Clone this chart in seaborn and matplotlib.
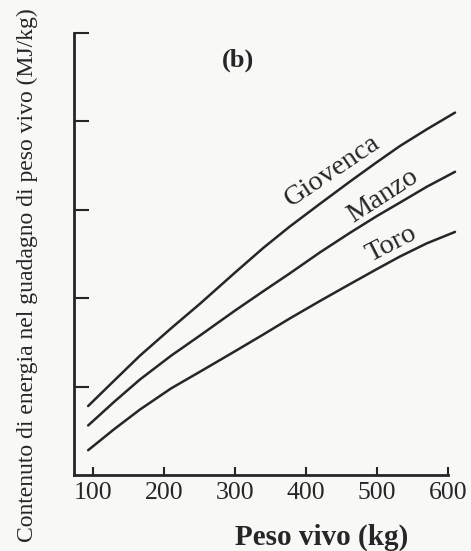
import matplotlib
matplotlib.use("Agg")
import matplotlib.pyplot as plt
import seaborn as sns
import pandas as pd

# peso vivo (kg) and energy content of gain (tick units, unlabeled axis)
peso = [93, 130, 166, 210, 251, 300, 340, 377, 420, 462, 500, 532, 570, 610]
giovenca = [0.78, 1.07, 1.35, 1.66, 1.94, 2.29, 2.57, 2.81, 3.07, 3.32, 3.54, 3.72, 3.91, 4.10]
manzo = [0.56, 0.83, 1.08, 1.35, 1.58, 1.86, 2.08, 2.28, 2.52, 2.74, 2.93, 3.08, 3.26, 3.43]
toro = [0.28, 0.52, 0.74, 0.98, 1.17, 1.40, 1.59, 1.77, 1.97, 2.16, 2.33, 2.47, 2.62, 2.75]

x_ticks = [100, 200, 300, 400, 500, 600]
y_ticks = [1, 2, 3, 4, 5]

df = pd.DataFrame({
    "peso": peso * 3,
    "energia": giovenca + manzo + toro,
    "tipo": ["Giovenca"] * len(peso) + ["Manzo"] * len(peso) + ["Toro"] * len(peso),
})

sns.set_style("ticks")
plt.rcParams["font.family"] = ["Liberation Serif", "DejaVu Serif"]

ink = "#262626"
fig = plt.figure(figsize=(4.71, 5.51), dpi=100, facecolor="#f8f8f6")
ax = fig.add_axes([0.157, 0.138, 0.794, 0.802])
ax.set_facecolor("#f8f8f6")

sns.lineplot(data=df, x="peso", y="energia", hue="tipo",
             palette=[ink, ink, ink], linewidth=1.8, legend=False, ax=ax)
for ln in ax.lines:
    ln.set_clip_on(False)
    ln.set_solid_capstyle("round")

ax.set_xlim(73, 600)
ax.set_ylim(0, 5)
ax.set_xticks(x_ticks)
ax.set_yticks(y_ticks)
ax.set_yticklabels([])
ax.tick_params(axis="x", direction="in", length=6, width=1.5, labelsize=18.5,
               colors=ink, pad=5)
ax.tick_params(axis="y", direction="in", length=11, width=1.5, colors=ink)
sns.despine(ax=ax)
for s in ["left", "bottom"]:
    ax.spines[s].set_linewidth(2)
    ax.spines[s].set_color(ink)

ax.set_xlabel("")
ax.set_ylabel("")
fig.text(0.682, 0.012, "Peso vivo (kg)", ha="center", va="baseline",
         fontsize=21, fontweight="bold", color=ink)
fig.text(0.058, 0.50, "Contenuto di energia nel guadagno di peso vivo (MJ/kg)",
         rotation=90, ha="center", va="center", fontsize=17, color=ink)

ax.text(238 / 471, 1 - 60 / 551, "(b)", transform=fig.transFigure,
        ha="center", va="center", fontsize=19, fontweight="bold", color=ink)

ax.text(438, 3.44, "Giovenca", rotation=34, rotation_mode="anchor",
        ha="center", va="center", fontsize=20.5, color=ink)
ax.text(508, 3.16, "Manzo", rotation=33, rotation_mode="anchor",
        ha="center", va="center", fontsize=20.5, color=ink)
ax.text(521, 2.61, "Toro", rotation=27, rotation_mode="anchor",
        ha="center", va="center", fontsize=20.5, color=ink)

fig.savefig("out.png", dpi=100, facecolor=fig.get_facecolor())
